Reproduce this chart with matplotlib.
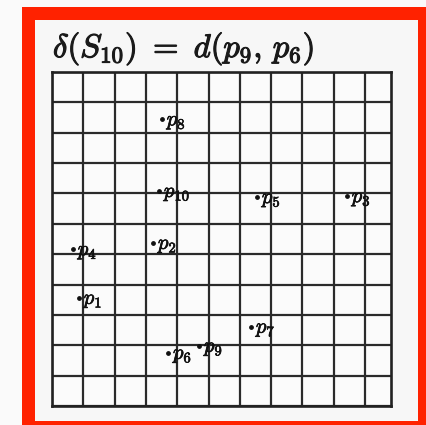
import numpy as np
import matplotlib
matplotlib.use("Agg")
import matplotlib.pyplot as plt
import matplotlib.patheffects as pe
from matplotlib.patches import Rectangle

plt.rcParams['mathtext.fontset'] = 'cm'

# point set on the grid (grid units, origin at lower-left corner)
names = ['p1', 'p2', 'p3', 'p4', 'p5', 'p6', 'p7', 'p8', 'p9', 'p10']
xs = [0.86, 3.23, 9.42, 0.67, 6.55, 3.71, 6.36, 3.51, 4.70, 3.42]
ys = [3.56, 5.37, 6.91, 5.16, 6.88, 1.75, 2.61, 9.44, 1.98, 7.08]

n_cols = 10.83
n_rows = 11

W, H = 427, 425
fig = plt.figure(figsize=(W / 100, H / 100), dpi=100)
fig.patch.set_facecolor('#fafafa')

def px_rect(x0, y0, x1, y1, **kw):
    # rectangle in image pixels (y measured from the top)
    fig.patches.append(Rectangle((x0 / W, 1 - y1 / H), (x1 - x0) / W, (y1 - y0) / H,
                                 transform=fig.transFigure, figure=fig, zorder=-5, **kw))

px_rect(22, 7, 427, 425, facecolor='#ff2200', edgecolor='none')
px_rect(35, 20, 418, 421, facecolor='#f7f7f7', edgecolor='none')

ax = fig.add_axes([52 / W, 1 - 406 / H, 339 / W, 334 / H])
ax.set_xlim(0, n_cols)
ax.set_ylim(0, n_rows)
ax.set_facecolor('#fbfbfb')
ax.set_xticks(np.arange(0, n_cols, 1.0))
ax.set_yticks(np.arange(0, n_rows + 1, 1.0))
ax.grid(True, color='#2a2a2a', linewidth=1.6)
ax.tick_params(length=0, labelbottom=False, labelleft=False)
for s in ax.spines.values():
    s.set_color('#222222')
    s.set_linewidth(1.9)

thick = [pe.withStroke(linewidth=0.5, foreground='#111111')]
ax.scatter(xs, ys, s=6, color='#111111', zorder=3)
for name, x, y in zip(names, xs, ys):
    label = '$p_{%s}$' % name[1:]
    ax.annotate(label, (x, y), xytext=(3.5, -1.5), textcoords='offset points',
                fontsize=15, color='#111111', va='center', ha='left', zorder=4,
                path_effects=thick)

fig.text(53 / W, 1 - 57 / H, r'$\delta(S_{10})\ =\ d(p_9,\,p_6)$',
         fontsize=23.5, color='#1a1a1a', va='baseline', ha='left',
         path_effects=[pe.withStroke(linewidth=0.8, foreground='#1a1a1a')])

fig.savefig('out.png', dpi=100)
